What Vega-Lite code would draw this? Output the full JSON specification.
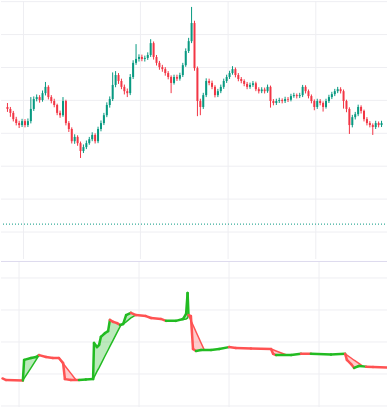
{
  "$schema": "https://vega.github.io/schema/vega-lite/v6.json",
  "padding": 0,
  "spacing": 0,
  "background": "#ffffff",
  "config": {
    "view": {"stroke": null}
  },
  "datasets": {
    "candles": [
      {"t":0,"o":138.0,"h":139.2,"l":136.5,"c":137.4},
      {"t":1,"o":137.4,"h":138.0,"l":135.0,"c":136.2},
      {"t":2,"o":136.2,"h":136.8,"l":133.6,"c":134.3},
      {"t":3,"o":134.3,"h":135.0,"l":132.4,"c":133.1},
      {"t":4,"o":133.1,"h":133.8,"l":131.6,"c":132.5},
      {"t":5,"o":132.5,"h":134.4,"l":131.9,"c":133.7},
      {"t":6,"o":133.7,"h":134.3,"l":131.8,"c":132.5},
      {"t":7,"o":132.5,"h":134.5,"l":131.9,"c":133.7},
      {"t":8,"o":133.7,"h":141.0,"l":133.0,"c":137.4},
      {"t":9,"o":137.4,"h":141.2,"l":136.8,"c":140.4},
      {"t":10,"o":140.4,"h":141.8,"l":139.7,"c":141.0},
      {"t":11,"o":141.0,"h":141.6,"l":139.3,"c":140.1},
      {"t":12,"o":140.1,"h":143.0,"l":139.6,"c":142.2},
      {"t":13,"o":142.2,"h":145.6,"l":141.5,"c":144.1},
      {"t":14,"o":144.1,"h":144.6,"l":140.3,"c":141.0},
      {"t":15,"o":141.0,"h":141.6,"l":139.1,"c":139.8},
      {"t":16,"o":139.8,"h":140.5,"l":137.9,"c":138.6},
      {"t":17,"o":138.6,"h":139.0,"l":135.5,"c":136.2},
      {"t":18,"o":136.2,"h":136.9,"l":134.7,"c":135.5},
      {"t":19,"o":135.5,"h":141.0,"l":135.0,"c":139.8},
      {"t":20,"o":139.8,"h":140.2,"l":132.4,"c":133.1},
      {"t":21,"o":133.1,"h":133.7,"l":130.4,"c":131.3},
      {"t":22,"o":131.3,"h":131.8,"l":126.9,"c":127.6},
      {"t":23,"o":127.6,"h":129.7,"l":126.8,"c":128.9},
      {"t":24,"o":128.9,"h":129.4,"l":126.2,"c":127.0},
      {"t":25,"o":127.0,"h":127.5,"l":122.5,"c":124.6},
      {"t":26,"o":124.6,"h":126.6,"l":124.0,"c":125.8},
      {"t":27,"o":125.8,"h":127.8,"l":125.2,"c":127.0},
      {"t":28,"o":127.0,"h":128.9,"l":126.5,"c":128.2},
      {"t":29,"o":128.2,"h":130.3,"l":127.6,"c":129.5},
      {"t":30,"o":129.5,"h":130.0,"l":126.9,"c":127.6},
      {"t":31,"o":127.6,"h":132.0,"l":127.0,"c":131.3},
      {"t":32,"o":131.3,"h":133.9,"l":130.6,"c":133.1},
      {"t":33,"o":133.1,"h":136.2,"l":132.5,"c":135.5},
      {"t":34,"o":135.5,"h":139.4,"l":134.9,"c":138.6},
      {"t":35,"o":138.6,"h":141.2,"l":137.8,"c":140.4},
      {"t":36,"o":140.4,"h":148.5,"l":139.8,"c":144.7},
      {"t":37,"o":144.7,"h":148.9,"l":144.0,"c":147.7},
      {"t":38,"o":147.7,"h":148.3,"l":145.0,"c":145.9},
      {"t":39,"o":145.9,"h":146.6,"l":143.4,"c":144.1},
      {"t":40,"o":144.1,"h":144.8,"l":141.8,"c":142.8},
      {"t":41,"o":142.8,"h":143.6,"l":141.0,"c":142.2},
      {"t":42,"o":142.2,"h":148.0,"l":141.6,"c":147.1},
      {"t":43,"o":147.1,"h":152.2,"l":146.5,"c":151.4},
      {"t":44,"o":151.4,"h":157.1,"l":150.8,"c":152.6},
      {"t":45,"o":152.6,"h":154.0,"l":151.8,"c":153.2},
      {"t":46,"o":153.2,"h":153.9,"l":151.9,"c":152.6},
      {"t":47,"o":152.6,"h":153.6,"l":151.8,"c":152.9},
      {"t":48,"o":152.9,"h":154.6,"l":152.3,"c":153.8},
      {"t":49,"o":153.8,"h":158.6,"l":153.2,"c":157.4},
      {"t":50,"o":157.4,"h":157.9,"l":152.4,"c":153.2},
      {"t":51,"o":153.2,"h":153.8,"l":150.6,"c":151.4},
      {"t":52,"o":151.4,"h":152.0,"l":149.3,"c":150.1},
      {"t":53,"o":150.1,"h":150.8,"l":148.7,"c":149.5},
      {"t":54,"o":149.5,"h":150.1,"l":147.5,"c":148.3},
      {"t":55,"o":148.3,"h":148.9,"l":146.4,"c":147.1},
      {"t":56,"o":147.1,"h":147.6,"l":142.2,"c":145.3},
      {"t":57,"o":145.3,"h":147.8,"l":144.8,"c":147.1},
      {"t":58,"o":147.1,"h":147.8,"l":145.9,"c":146.6},
      {"t":59,"o":146.6,"h":148.4,"l":146.0,"c":147.7},
      {"t":60,"o":147.7,"h":151.4,"l":147.1,"c":150.7},
      {"t":61,"o":150.7,"h":155.8,"l":150.2,"c":155.0},
      {"t":62,"o":155.0,"h":159.0,"l":154.4,"c":158.0},
      {"t":63,"o":158.0,"h":168.4,"l":157.4,"c":163.5},
      {"t":64,"o":163.5,"h":164.2,"l":149.0,"c":149.8},
      {"t":65,"o":149.8,"h":150.3,"l":135.2,"c":139.8},
      {"t":66,"o":139.8,"h":140.5,"l":135.5,"c":138.0},
      {"t":67,"o":138.0,"h":142.3,"l":137.4,"c":141.6},
      {"t":68,"o":141.6,"h":146.7,"l":141.0,"c":145.9},
      {"t":69,"o":145.9,"h":146.6,"l":144.6,"c":145.3},
      {"t":70,"o":145.3,"h":146.0,"l":143.4,"c":144.1},
      {"t":71,"o":144.1,"h":144.6,"l":140.9,"c":141.6},
      {"t":72,"o":141.6,"h":143.5,"l":141.0,"c":142.8},
      {"t":73,"o":142.8,"h":144.8,"l":142.2,"c":144.1},
      {"t":74,"o":144.1,"h":146.6,"l":143.5,"c":145.9},
      {"t":75,"o":145.9,"h":147.8,"l":145.3,"c":147.1},
      {"t":76,"o":147.1,"h":149.0,"l":146.5,"c":148.3},
      {"t":77,"o":148.3,"h":150.4,"l":147.8,"c":149.5},
      {"t":78,"o":149.5,"h":150.0,"l":147.0,"c":147.7},
      {"t":79,"o":147.7,"h":148.3,"l":145.8,"c":146.5},
      {"t":80,"o":146.5,"h":147.1,"l":145.2,"c":145.9},
      {"t":81,"o":145.9,"h":146.4,"l":144.3,"c":145.0},
      {"t":82,"o":145.0,"h":145.6,"l":143.4,"c":144.1},
      {"t":83,"o":144.1,"h":145.4,"l":143.5,"c":144.7},
      {"t":84,"o":144.7,"h":145.9,"l":144.1,"c":145.2},
      {"t":85,"o":145.2,"h":145.7,"l":142.8,"c":143.4},
      {"t":86,"o":143.4,"h":144.0,"l":142.1,"c":142.8},
      {"t":87,"o":142.8,"h":144.0,"l":142.2,"c":143.3},
      {"t":88,"o":143.3,"h":143.9,"l":142.1,"c":142.8},
      {"t":89,"o":142.8,"h":144.8,"l":142.3,"c":144.1},
      {"t":90,"o":144.1,"h":144.5,"l":137.8,"c":139.8},
      {"t":91,"o":139.8,"h":140.4,"l":138.5,"c":139.2},
      {"t":92,"o":139.2,"h":140.5,"l":138.6,"c":139.8},
      {"t":93,"o":139.8,"h":140.8,"l":139.2,"c":140.1},
      {"t":94,"o":140.1,"h":140.6,"l":139.1,"c":139.8},
      {"t":95,"o":139.8,"h":141.1,"l":139.2,"c":140.4},
      {"t":96,"o":140.4,"h":141.0,"l":139.5,"c":140.2},
      {"t":97,"o":140.2,"h":142.0,"l":139.7,"c":141.3},
      {"t":98,"o":141.3,"h":142.3,"l":140.8,"c":141.6},
      {"t":99,"o":141.6,"h":142.1,"l":140.6,"c":141.3},
      {"t":100,"o":141.3,"h":142.3,"l":140.7,"c":141.6},
      {"t":101,"o":141.6,"h":144.7,"l":141.0,"c":144.1},
      {"t":102,"o":144.1,"h":144.6,"l":142.1,"c":142.8},
      {"t":103,"o":142.8,"h":143.3,"l":140.6,"c":141.3},
      {"t":104,"o":141.3,"h":141.8,"l":139.1,"c":139.8},
      {"t":105,"o":139.8,"h":140.3,"l":137.0,"c":138.0},
      {"t":106,"o":138.0,"h":140.5,"l":137.4,"c":139.8},
      {"t":107,"o":139.8,"h":140.4,"l":138.5,"c":139.2},
      {"t":108,"o":139.2,"h":139.7,"l":136.6,"c":138.0},
      {"t":109,"o":138.0,"h":140.5,"l":137.5,"c":139.8},
      {"t":110,"o":139.8,"h":141.7,"l":139.2,"c":141.0},
      {"t":111,"o":141.0,"h":142.6,"l":140.4,"c":141.9},
      {"t":112,"o":141.9,"h":143.5,"l":141.3,"c":142.8},
      {"t":113,"o":142.8,"h":144.1,"l":142.2,"c":143.4},
      {"t":114,"o":143.4,"h":144.0,"l":142.1,"c":142.8},
      {"t":115,"o":142.8,"h":143.3,"l":137.5,"c":139.8},
      {"t":116,"o":139.8,"h":140.2,"l":136.4,"c":137.4},
      {"t":117,"o":137.4,"h":137.9,"l":129.8,"c":132.5},
      {"t":118,"o":132.5,"h":135.6,"l":131.8,"c":134.9},
      {"t":119,"o":134.9,"h":136.5,"l":134.2,"c":135.8},
      {"t":120,"o":135.8,"h":138.7,"l":135.2,"c":138.0},
      {"t":121,"o":138.0,"h":138.5,"l":136.0,"c":136.8},
      {"t":122,"o":136.8,"h":137.2,"l":133.6,"c":134.3},
      {"t":123,"o":134.3,"h":134.9,"l":132.4,"c":133.1},
      {"t":124,"o":133.1,"h":133.7,"l":131.8,"c":132.5},
      {"t":125,"o":132.5,"h":133.0,"l":129.5,"c":131.9},
      {"t":126,"o":131.9,"h":133.8,"l":131.3,"c":133.1},
      {"t":127,"o":133.1,"h":133.6,"l":131.8,"c":132.5},
      {"t":128,"o":132.5,"h":133.8,"l":131.9,"c":133.1}
    ],
    "segs": [
      {"t":0.0,"a":8.6,"t2":1.2,"a2":8.1,"d":"r"},
      {"t":1.2,"a":8.1,"t2":6.8,"a2":8.0,"d":"r"},
      {"t":6.8,"a":8.0,"t2":7.2,"a2":14.4,"d":"g"},
      {"t":7.2,"a":14.4,"t2":9.5,"a2":15.0,"d":"g"},
      {"t":9.5,"a":15.0,"t2":11.2,"a2":15.3,"d":"g"},
      {"t":11.2,"a":15.3,"t2":12.2,"a2":15.9,"d":"g"},
      {"t":12.2,"a":15.9,"t2":14.5,"a2":15.3,"d":"r"},
      {"t":14.5,"a":15.3,"t2":16.8,"a2":15.0,"d":"r"},
      {"t":16.8,"a":15.0,"t2":18.8,"a2":15.0,"d":"r"},
      {"t":18.8,"a":15.0,"t2":20.2,"a2":13.4,"d":"r"},
      {"t":20.2,"a":13.4,"t2":20.8,"a2":8.4,"d":"r"},
      {"t":20.8,"a":8.4,"t2":22.8,"a2":8.1,"d":"r"},
      {"t":22.8,"a":8.1,"t2":25.5,"a2":8.1,"d":"r"},
      {"t":25.5,"a":8.1,"t2":27.8,"a2":8.3,"d":"g"},
      {"t":27.8,"a":8.3,"t2":30.2,"a2":8.4,"d":"g"},
      {"t":30.2,"a":8.4,"t2":30.5,"a2":19.7,"d":"g"},
      {"t":30.5,"a":19.7,"t2":31.5,"a2":18.4,"d":"g"},
      {"t":31.5,"a":18.4,"t2":32.2,"a2":19.1,"d":"g"},
      {"t":32.2,"a":19.1,"t2":32.8,"a2":21.6,"d":"g"},
      {"t":32.8,"a":21.6,"t2":34.2,"a2":22.8,"d":"g"},
      {"t":34.2,"a":22.8,"t2":35.2,"a2":23.4,"d":"g"},
      {"t":35.2,"a":23.4,"t2":35.8,"a2":26.9,"d":"g"},
      {"t":35.8,"a":26.9,"t2":36.8,"a2":26.3,"d":"r"},
      {"t":36.8,"a":26.3,"t2":38.2,"a2":25.9,"d":"r"},
      {"t":38.2,"a":25.9,"t2":39.2,"a2":25.3,"d":"r"},
      {"t":39.2,"a":25.3,"t2":40.2,"a2":25.6,"d":"g"},
      {"t":40.2,"a":25.6,"t2":41.2,"a2":28.4,"d":"g"},
      {"t":41.2,"a":28.4,"t2":42.8,"a2":29.1,"d":"g"},
      {"t":42.8,"a":29.1,"t2":44.5,"a2":28.4,"d":"r"},
      {"t":44.5,"a":28.4,"t2":47.8,"a2":28.1,"d":"r"},
      {"t":47.8,"a":28.1,"t2":49.5,"a2":27.5,"d":"r"},
      {"t":49.5,"a":27.5,"t2":52.8,"a2":27.2,"d":"r"},
      {"t":52.8,"a":27.2,"t2":54.5,"a2":26.6,"d":"r"},
      {"t":54.5,"a":26.6,"t2":57.8,"a2":26.6,"d":"g"},
      {"t":57.8,"a":26.6,"t2":60.2,"a2":27.2,"d":"g"},
      {"t":60.2,"a":27.2,"t2":61.2,"a2":28.8,"d":"g"},
      {"t":61.2,"a":28.8,"t2":61.7,"a2":35.3,"d":"g"},
      {"t":61.7,"a":35.3,"t2":62.0,"a2":28.4,"d":"g"},
      {"t":62.0,"a":28.4,"t2":62.8,"a2":28.1,"d":"r"},
      {"t":62.8,"a":28.1,"t2":63.5,"a2":17.8,"d":"r"},
      {"t":63.5,"a":17.8,"t2":64.5,"a2":17.2,"d":"r"},
      {"t":64.5,"a":17.2,"t2":66.2,"a2":17.5,"d":"g"},
      {"t":66.2,"a":17.5,"t2":69.5,"a2":17.5,"d":"g"},
      {"t":69.5,"a":17.5,"t2":72.2,"a2":17.8,"d":"g"},
      {"t":72.2,"a":17.8,"t2":75.5,"a2":18.4,"d":"g"},
      {"t":75.5,"a":18.4,"t2":77.8,"a2":18.1,"d":"r"},
      {"t":77.8,"a":18.1,"t2":82.8,"a2":18.0,"d":"r"},
      {"t":82.8,"a":18.0,"t2":89.5,"a2":17.8,"d":"r"},
      {"t":89.5,"a":17.8,"t2":90.2,"a2":16.3,"d":"r"},
      {"t":90.2,"a":16.3,"t2":91.2,"a2":15.9,"d":"r"},
      {"t":91.2,"a":15.9,"t2":96.2,"a2":15.9,"d":"g"},
      {"t":96.2,"a":15.9,"t2":99.5,"a2":16.3,"d":"g"},
      {"t":99.5,"a":16.3,"t2":102.8,"a2":16.3,"d":"r"},
      {"t":102.8,"a":16.3,"t2":109.5,"a2":16.1,"d":"g"},
      {"t":109.5,"a":16.1,"t2":114.2,"a2":16.3,"d":"g"},
      {"t":114.2,"a":16.3,"t2":114.8,"a2":14.4,"d":"r"},
      {"t":114.8,"a":14.4,"t2":116.2,"a2":13.1,"d":"r"},
      {"t":116.2,"a":13.1,"t2":117.2,"a2":11.9,"d":"r"},
      {"t":117.2,"a":11.9,"t2":118.8,"a2":12.5,"d":"g"},
      {"t":118.8,"a":12.5,"t2":121.2,"a2":12.3,"d":"g"},
      {"t":121.2,"a":12.3,"t2":123.5,"a2":12.2,"d":"r"},
      {"t":123.5,"a":12.2,"t2":128.5,"a2":12.0,"d":"r"}
    ],
    "fills": [
      {"t":6.8,"a":8.0,"b":8.0,"r":1,"d":"g"},
      {"t":7.2,"a":14.4,"b":8.6,"r":1,"d":"g"},
      {"t":9.5,"a":15.0,"b":11.9,"r":1,"d":"g"},
      {"t":11.2,"a":15.3,"b":14.4,"r":1,"d":"g"},
      {"t":12.2,"a":15.9,"b":15.9,"r":1,"d":"g"},
      {"t":18.8,"a":15.0,"b":15.0,"r":2,"d":"r"},
      {"t":20.2,"a":13.4,"b":13.3,"r":2,"d":"r"},
      {"t":20.8,"a":8.4,"b":12.6,"r":2,"d":"r"},
      {"t":22.8,"a":8.1,"b":10.2,"r":2,"d":"r"},
      {"t":24.5,"a":8.1,"b":8.1,"r":2,"d":"r"},
      {"t":30.2,"a":8.4,"b":8.4,"r":3,"d":"g"},
      {"t":30.5,"a":19.7,"b":8.9,"r":3,"d":"g"},
      {"t":31.5,"a":18.4,"b":10.8,"r":3,"d":"g"},
      {"t":32.2,"a":19.1,"b":12.0,"r":3,"d":"g"},
      {"t":32.8,"a":21.6,"b":13.1,"r":3,"d":"g"},
      {"t":34.2,"a":22.8,"b":15.7,"r":3,"d":"g"},
      {"t":35.2,"a":23.4,"b":17.5,"r":3,"d":"g"},
      {"t":35.8,"a":26.9,"b":18.6,"r":3,"d":"g"},
      {"t":36.8,"a":26.3,"b":20.4,"r":3,"d":"g"},
      {"t":38.2,"a":25.9,"b":23.0,"r":3,"d":"g"},
      {"t":39.2,"a":25.3,"b":24.8,"r":3,"d":"g"},
      {"t":39.5,"a":25.4,"b":25.3,"r":3,"d":"g"},
      {"t":40.2,"a":25.6,"b":25.6,"r":3,"d":"g"},
      {"t":41.2,"a":28.4,"b":26.3,"r":3,"d":"g"},
      {"t":42.8,"a":29.1,"b":27.5,"r":3,"d":"g"},
      {"t":43.8,"a":28.7,"b":28.1,"r":3,"d":"g"},
      {"t":44.5,"a":28.4,"b":28.4,"r":3,"d":"g"},
      {"t":59.5,"a":27.0,"b":27.0,"r":7,"d":"g"},
      {"t":60.2,"a":27.2,"b":27.0,"r":7,"d":"g"},
      {"t":61.2,"a":28.8,"b":27.2,"r":7,"d":"g"},
      {"t":61.7,"a":28.6,"b":27.5,"r":7,"d":"g"},
      {"t":62.0,"a":28.4,"b":28.4,"r":7,"d":"g"},
      {"t":62.0,"a":28.4,"b":28.4,"r":4,"d":"r"},
      {"t":62.8,"a":28.1,"b":26.7,"r":4,"d":"r"},
      {"t":63.5,"a":17.8,"b":25.3,"r":4,"d":"r"},
      {"t":64.5,"a":17.2,"b":23.2,"r":4,"d":"r"},
      {"t":66.2,"a":17.5,"b":19.7,"r":4,"d":"r"},
      {"t":67.2,"a":17.6,"b":17.6,"r":4,"d":"r"},
      {"t":89.5,"a":17.8,"b":17.8,"r":5,"d":"r"},
      {"t":90.2,"a":16.3,"b":17.55,"r":5,"d":"r"},
      {"t":91.2,"a":15.9,"b":17.2,"r":5,"d":"r"},
      {"t":94.5,"a":15.9,"b":16.0,"r":5,"d":"r"},
      {"t":94.8,"a":15.9,"b":15.9,"r":5,"d":"r"},
      {"t":114.2,"a":16.3,"b":16.3,"r":6,"d":"r"},
      {"t":114.8,"a":14.4,"b":15.9,"r":6,"d":"r"},
      {"t":116.2,"a":13.1,"b":15.0,"r":6,"d":"r"},
      {"t":117.2,"a":11.9,"b":14.3,"r":6,"d":"r"},
      {"t":118.8,"a":12.5,"b":13.3,"r":6,"d":"r"},
      {"t":119.8,"a":12.4,"b":12.6,"r":6,"d":"r"},
      {"t":120.2,"a":12.35,"b":12.35,"r":6,"d":"r"}
    ],
    "gx": [{"v": 5.5}, {"v": 45.5}, {"v": 75.5}, {"v": 105.5}],
    "gyTop": [{"v": 100}, {"v": 110}, {"v": 120}, {"v": 130}, {"v": 140}, {"v": 150}, {"v": 160}, {"v": 170}],
    "gyBot": [{"v": 0}, {"v": 10}, {"v": 20}, {"v": 30}, {"v": 40}],
    "hline": [{"p": 102.4}],
    "sep": [{"p": 45.15}]
  },
  "vconcat": [
    {
      "width": 387,
      "height": 258,
      "layer": [
        {
          "data": {"name": "gx"},
          "mark": {"type": "rule", "color": "#eeeef2", "strokeWidth": 1},
          "encoding": {
            "x": {"field": "v", "type": "quantitative", "scale": {"domain": [-0.5, 128.5], "nice": false, "zero": false}, "axis": null}
          }
        },
        {
          "data": {"name": "gyTop"},
          "mark": {"type": "rule", "color": "#eeeef2", "strokeWidth": 1},
          "encoding": {
            "y": {"field": "v", "type": "quantitative", "scale": {"domain": [91.8, 170.2], "nice": false, "zero": false}, "axis": null}
          }
        },
        {
          "data": {"name": "candles"},
          "mark": {"type": "rule", "strokeWidth": 1},
          "encoding": {
            "x": {"field": "t", "type": "quantitative", "axis": null},
            "y": {"field": "l", "type": "quantitative", "axis": null},
            "y2": {"field": "h"},
            "color": {"condition": {"test": "datum.c >= datum.o", "value": "#089981"}, "value": "#f23645"}
          }
        },
        {
          "data": {"name": "candles"},
          "mark": {"type": "bar", "size": 2},
          "encoding": {
            "x": {"field": "t", "type": "quantitative", "axis": null},
            "y": {"field": "o", "type": "quantitative", "axis": null},
            "y2": {"field": "c"},
            "color": {"condition": {"test": "datum.c >= datum.o", "value": "#089981"}, "value": "#f23645"}
          }
        },
        {
          "data": {"name": "hline"},
          "mark": {"type": "rule", "color": "#089981", "strokeWidth": 1, "strokeDash": [1, 2]},
          "encoding": {"y": {"field": "p", "type": "quantitative", "axis": null}}
        }
      ]
    },
    {
      "width": 387,
      "height": 149,
      "layer": [
        {
          "data": {"name": "gx"},
          "mark": {"type": "rule", "color": "#eeeef2", "strokeWidth": 1},
          "encoding": {
            "x": {"field": "v", "type": "quantitative", "scale": {"domain": [-0.5, 128.5], "nice": false, "zero": false}, "axis": null}
          }
        },
        {
          "data": {"name": "gyBot"},
          "mark": {"type": "rule", "color": "#eeeef2", "strokeWidth": 1},
          "encoding": {
            "y": {"field": "v", "type": "quantitative", "scale": {"domain": [-1.25, 45.3], "nice": false, "zero": false}, "axis": null}
          }
        },
        {
          "data": {"name": "sep"},
          "mark": {"type": "rule", "color": "#dedaee", "strokeWidth": 1},
          "encoding": {"y": {"field": "p", "type": "quantitative", "axis": null}}
        },
        {
          "data": {"name": "fills"},
          "mark": {"type": "area", "opacity": 0.3, "interpolate": "linear"},
          "encoding": {
            "x": {"field": "t", "type": "quantitative", "axis": null},
            "y": {"field": "a", "type": "quantitative", "axis": null},
            "y2": {"field": "b"},
            "detail": {"field": "r"},
            "color": {"field": "d", "type": "nominal", "scale": {"domain": ["g", "r"], "range": ["#22bb22", "#ff5252"]}, "legend": null}
          }
        },
        {
          "data": {"name": "fills"},
          "mark": {"type": "line", "strokeWidth": 1.5},
          "encoding": {
            "x": {"field": "t", "type": "quantitative", "axis": null},
            "y": {"field": "b", "type": "quantitative", "axis": null},
            "detail": {"field": "r"},
            "color": {"field": "d", "type": "nominal", "legend": null}
          }
        },
        {
          "data": {"name": "segs"},
          "mark": {"type": "rule", "strokeWidth": 2.5, "strokeCap": "round"},
          "encoding": {
            "x": {"field": "t", "type": "quantitative", "axis": null},
            "x2": {"field": "t2"},
            "y": {"field": "a", "type": "quantitative", "axis": null},
            "y2": {"field": "a2"},
            "color": {"field": "d", "type": "nominal", "legend": null}
          }
        }
      ]
    }
  ]
}
